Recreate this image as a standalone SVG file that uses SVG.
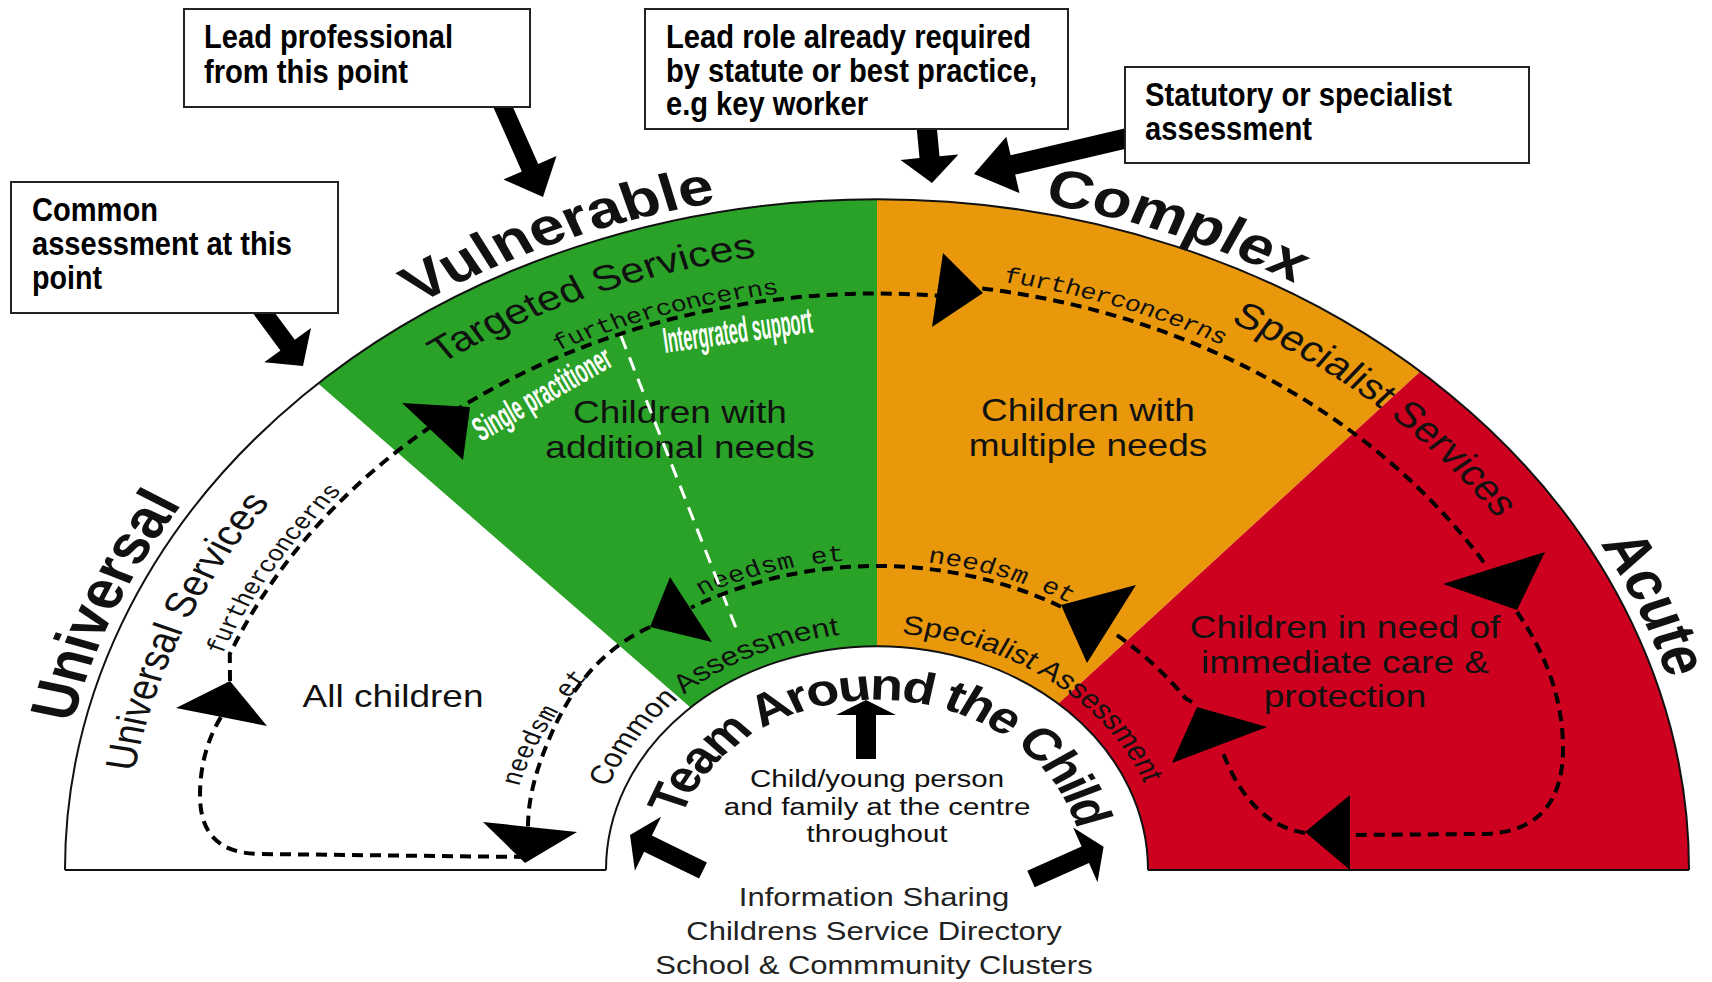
<svg xmlns="http://www.w3.org/2000/svg" width="1712" height="982" viewBox="0 0 1712 982">
<style>
text{font-family:"Liberation Sans",Arial,Helvetica,sans-serif;fill:#111}
.big{font-size:64px;font-weight:bold}
.band{font-size:43px}
.ass{font-size:32px}
.team{font-size:54px;font-weight:bold;letter-spacing:-2.8px}
.mono{font-family:"Courier New","Liberation Mono",monospace;font-size:27px;letter-spacing:-0.7px}
.monon{font-family:"Courier New","Liberation Mono",monospace;font-size:28px}
.body{font-size:37px}
.mid{font-size:29.5px}
.foot{font-size:31px;fill:#222}
.call{font-size:34px;font-weight:bold;fill:#000}
.wht{fill:#fff;font-weight:bold}
.dash{fill:none;stroke:#000;stroke-width:4;stroke-dasharray:11 7}
.wdash{fill:none;stroke:#fff;stroke-width:3;stroke-dasharray:14 9}
.tri{fill:#000}
.box{fill:#fff;stroke:#222;stroke-width:2}
.thick{fill:#000}
.edge{fill:none;stroke:#111;stroke-width:2;vector-effect:non-scaling-stroke}
</style>
<defs>
<path id="pOut" d="M -824,0 A 824 824 0 0 1 824,0"/>
<path id="pBand" d="M -752,0 A 752 752 0 0 1 752,0"/>
<path id="pAss" d="M -287,0 A 287 287 0 0 1 287,0"/>
<path id="pTeam" d="M -206,0 A 206 206 0 0 1 206,0"/>
<path id="pFc1" d="M -705,0 A 705 705 0 0 1 705,0"/>
<path id="pFc3" d="M -723,0 A 723 723 0 0 1 723,0"/>
<path id="pNm1" d="M -372,0 A 372 372 0 0 1 372,0"/>
<path id="pNm2" d="M -376,0 A 376 376 0 0 1 376,0"/>
</defs>
<rect width="1712" height="982" fill="#fff"/>

<g id="wheel" transform="translate(877,870) scale(1,0.826)">
  <g id="sector-universal"><path fill="#ffffff" d="M -812,0 A 812 812 0 0 1 -558.9,-589 L -186.5,-196.6 A 271 271 0 0 0 -271,0 Z"/></g>
  <g id="sector-vulnerable"><path fill="#2aa228" d="M -558.9,-589 A 812 812 0 0 1 0,-812 L 0,-271 A 271 271 0 0 0 -186.5,-196.6 Z"/></g>
  <g id="sector-complex"><path fill="#e8980a" d="M 0,-812 A 812 812 0 0 1 543.3,-603.4 L 181.3,-201.4 A 271 271 0 0 0 0,-271 Z"/></g>
  <g id="sector-acute"><path fill="#ce0020" d="M 543.3,-603.4 A 812 812 0 0 1 812,0 L 271,0 A 271 271 0 0 0 181.3,-201.4 Z"/></g>
  <g id="centre-hub"><path fill="#fff" d="M -271,0 A 271 271 0 0 1 271,0 Z"/></g>
  <path class="edge" d="M -812,0 A 812 812 0 0 1 812,0"/>
  <path class="edge" d="M -812,0 L -271,0 M 271,0 L 812,0"/>
  <path class="edge" d="M -271,0 A 271 271 0 0 1 271,0"/>

  <g id="curved-labels">
    <text class="big" text-anchor="middle"><textPath href="#pOut" startOffset="12.5%">Universal</textPath></text>
    <text class="big" text-anchor="middle"><textPath href="#pOut" startOffset="37.5%">Vulnerable</textPath></text>
    <text class="big" text-anchor="middle"><textPath href="#pOut" startOffset="61.7%">Complex</textPath></text>
    <text class="big" text-anchor="middle"><textPath href="#pOut" startOffset="87.5%">Acute</textPath></text>
    <text class="band" text-anchor="middle"><textPath href="#pBand" startOffset="12.6%">Universal Services</textPath></text>
    <text class="band" text-anchor="middle"><textPath href="#pBand" startOffset="37.6%">Targeted Services</textPath></text>
    <text class="band" text-anchor="middle"><textPath href="#pBand" startOffset="73.2%">Specialist Services</textPath></text>
    <text class="ass" text-anchor="middle"><textPath href="#pAss" startOffset="28.6%">Common Assessment</textPath></text>
    <text class="ass" text-anchor="middle"><textPath href="#pAss" startOffset="70.4%">Specialist Assessment</textPath></text>
    <text class="team" text-anchor="middle"><textPath href="#pTeam" startOffset="51%">Team Around the Child</textPath></text>
    <text class="mono" text-anchor="middle"><textPath href="#pFc1" startOffset="17.3%">furtherconcerns</textPath></text>
    <text class="mono" text-anchor="middle"><textPath href="#pFc1" startOffset="40.3%">furtherconcerns</textPath></text>
    <text class="mono" text-anchor="middle"><textPath href="#pFc3" startOffset="60.7%">furtherconcerns</textPath></text>
    <text class="monon" text-anchor="middle"><textPath href="#pNm1" startOffset="15.2%">needsm et</textPath></text>
    <text class="monon" text-anchor="middle"><textPath href="#pNm2" startOffset="40.9%">needsm et</textPath></text>
    <text class="monon" text-anchor="middle"><textPath href="#pNm2" startOffset="60.7%">needsm et</textPath></text>
  </g>
</g>

<g id="sector-texts">
  <text class="body" text-anchor="middle" transform="translate(393,707) scale(1,0.826)">All children</text>
  <text class="body" text-anchor="middle" transform="translate(680,423) scale(1,0.826)">Children with</text>
  <text class="body" text-anchor="middle" transform="translate(680,458) scale(1,0.826)">additional needs</text>
  <text class="body" text-anchor="middle" transform="translate(1088,421) scale(1,0.826)">Children with</text>
  <text class="body" text-anchor="middle" transform="translate(1088,456) scale(1,0.826)">multiple needs</text>
  <text class="body" text-anchor="middle" transform="translate(1345,638) scale(1,0.826)">Children in need of</text>
  <text class="body" text-anchor="middle" transform="translate(1345,673) scale(1,0.826)">immediate care &amp;</text>
  <text class="body" text-anchor="middle" transform="translate(1345,707) scale(1,0.826)">protection</text>
  <text class="mid" text-anchor="middle" transform="translate(877,787) scale(1,0.826)">Child/young person</text>
  <text class="mid" text-anchor="middle" transform="translate(877,815) scale(1,0.826)">and family at the centre</text>
  <text class="mid" text-anchor="middle" transform="translate(877,842) scale(1,0.826)">throughout</text>
  <text class="foot" text-anchor="middle" transform="translate(874,906) scale(1,0.85)">Information Sharing</text>
  <text class="foot" text-anchor="middle" transform="translate(874,940) scale(1,0.85)">Childrens Service Directory</text>
  <text class="foot" text-anchor="middle" transform="translate(874,974) scale(1,0.85)">School &amp; Commmunity Clusters</text>
</g>

<g id="support-split">
  <path class="wdash" d="M 621,336 L 738,633"/>
  <text class="wht" font-size="34" textLength="154" lengthAdjust="spacingAndGlyphs" transform="translate(481,442) rotate(-30)">Single practitioner</text>
  <text class="wht" font-size="36" textLength="150" lengthAdjust="spacingAndGlyphs" transform="translate(665,353) rotate(-8)">Intergrated support</text>
</g>

<g id="connectors">
  <path class="dash" d="M 230,681 L 229.8,654 A 698 576.5 0 0 1 937.8,295.7"/>
  <path class="dash" d="M 982.2,288.4 A 712 588.1 0 0 1 1487.3,567.1"/>
  <path class="dash" d="M 1517,612 C 1540,645 1562,690 1563,745 C 1564,800 1540,834 1480,834 L 1350,835"/>
  <path class="dash" d="M 1305,833 C 1270,828 1240,800 1222,750"/>
  <path class="dash" d="M 1192,702 L 1185.4,698.2 A 372 307.3 0 0 0 1111.1,631.2"/>
  <path class="dash" d="M 1061,606.7 A 368 304 0 0 0 691,607.7"/>
  <path class="dash" d="M 650,627 C 600,650 570,690 550,737 C 535,772 528,800 528,827"/>
  <path class="dash" d="M 525,857 L 262,854 C 215,854 200,830 200,795 C 200,765 208,738 221,717"/>
  <polygon class="tri" points="176,708 230,681 267,726"/>
  <polygon class="tri" points="483,822 577,832 525,863"/>
  <polygon class="tri" points="402,403 470,407 463,460"/>
  <polygon class="tri" points="670,577 650,627 712,642"/>
  <polygon class="tri" points="943,253 983,293 932,327"/>
  <polygon class="tri" points="1443,584 1545,552 1517,610"/>
  <polygon class="tri" points="1305,832 1350,795 1350,870"/>
  <polygon class="tri" points="1197,707 1267,727 1172,763"/>
  <polygon class="tri" points="1061,605 1136,585 1087,663"/>
  <polygon class="thick" points="491.8,103.7 521.8,171.4 503.5,179.5 543,197 556.5,156 538.2,164.1 508.2,96.4"/>
  <polygon class="thick" points="250.8,310.3 280.4,350.4 264.2,362.3 303,366 311,327.9 294.8,339.8 265.2,299.7"/>
  <polygon class="thick" points="916,120.9 919.5,158 900.6,159.9 932,183 958.4,154.4 939.5,156.2 936,119.1"/>
  <polygon class="thick" points="1129.7,127.3 1010.6,155.2 1006.3,136.7 974,174 1019.5,193.1 1015.2,174.6 1134.3,146.7"/>
  <polygon class="thick" points="866,700 896,715 876,715 876,759 856,759 856,715 836,715"/>
  <polygon class="thick" points="706.9,862.4 651.9,835.6 661.1,816.7 630,835 634.9,870.7 644.1,851.8 699.1,878.6"/>
  <polygon class="thick" points="1027.3,870.8 1081.6,846.6 1073.1,827.4 1103.6,846.7 1097.5,882.2 1089,863 1034.7,887.2"/>
</g>

<g id="box-lead-professional">
  <rect class="box" x="184" y="9" width="346" height="98"/>
  <text class="call" x="204" y="48" textLength="249" lengthAdjust="spacingAndGlyphs">Lead professional</text>
  <text class="call" x="204" y="83" textLength="204" lengthAdjust="spacingAndGlyphs">from this point</text>
</g>
<g id="box-lead-role">
  <rect class="box" x="645" y="9" width="423" height="120"/>
  <text class="call" x="666" y="48" textLength="365" lengthAdjust="spacingAndGlyphs">Lead role already required</text>
  <text class="call" x="666" y="82" textLength="371" lengthAdjust="spacingAndGlyphs">by statute or best practice,</text>
  <text class="call" x="666" y="115" textLength="202" lengthAdjust="spacingAndGlyphs">e.g key worker</text>
</g>
<g id="box-statutory">
  <rect class="box" x="1125" y="67" width="404" height="96"/>
  <text class="call" x="1145" y="106" textLength="307" lengthAdjust="spacingAndGlyphs">Statutory or specialist</text>
  <text class="call" x="1145" y="140" textLength="167" lengthAdjust="spacingAndGlyphs">assessment</text>
</g>
<g id="box-common-assessment">
  <rect class="box" x="11" y="182" width="327" height="131"/>
  <text class="call" x="32" y="221" textLength="126" lengthAdjust="spacingAndGlyphs">Common</text>
  <text class="call" x="32" y="255" textLength="260" lengthAdjust="spacingAndGlyphs">assessment at this</text>
  <text class="call" x="32" y="289" textLength="70" lengthAdjust="spacingAndGlyphs">point</text>
</g>
</svg>
